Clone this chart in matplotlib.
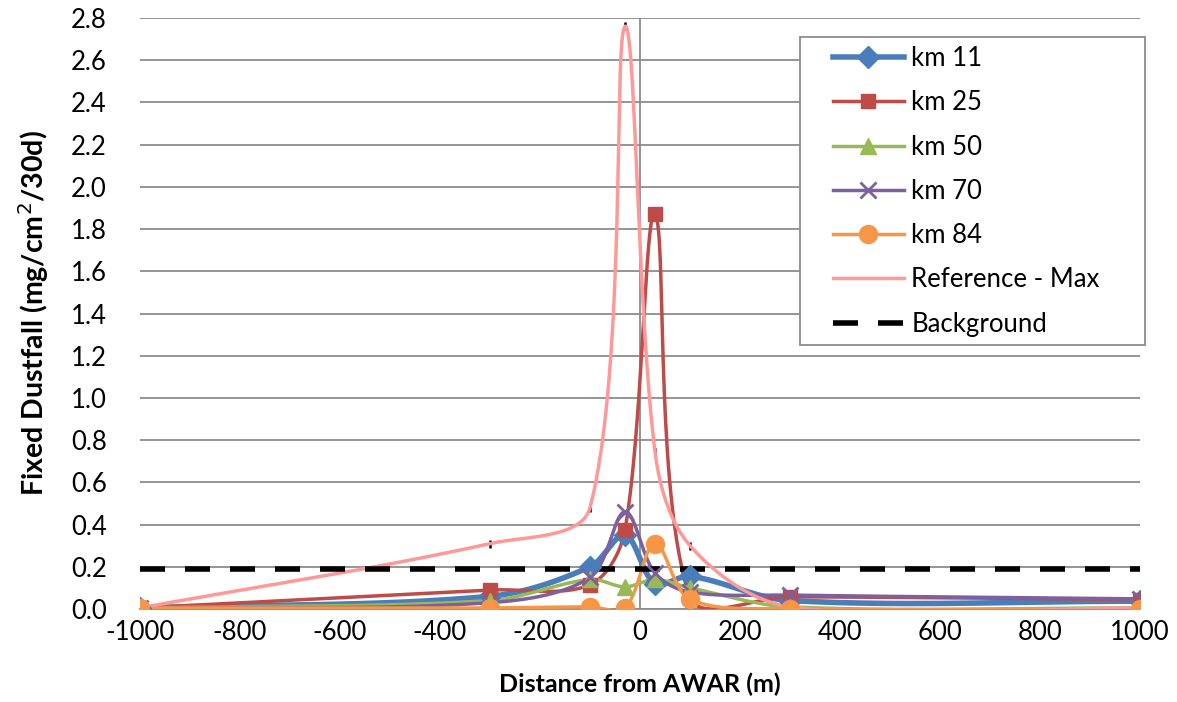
import matplotlib
matplotlib.use("Agg")
import matplotlib.pyplot as plt
from matplotlib.patches import Rectangle
import numpy as np

plt.rcParams['font.family'] = ['Lato', 'DejaVu Sans']
plt.rcParams['axes.unicode_minus'] = False

# distance from AWAR (m)
dist = [-1000, -300, -100, -30, 30, 100, 300, 1000]

km11 = [0.005, 0.06, 0.20, 0.35, 0.12, 0.155, 0.04, 0.037]
km25 = [0.005, 0.09, 0.115, 0.375, 1.87, 0.055, 0.058, 0.045]
km50 = [0.005, 0.04, 0.14, 0.105, 0.14, 0.10, 0.01, 0.005]
km70 = [0.005, 0.03, 0.15, 0.46, 0.17, 0.08, 0.066, 0.048]
km84 = [0.005, 0.005, 0.01, 0.005, 0.31, 0.047, 0.002, 0.002]
ref_max = [0.005, 0.31, 0.48, 2.76, 0.745, 0.30, 0.01, 0.005]
background = [0.19, 0.19]
bg_x = [-1000, 1000]

XMIN, XMAX, YMIN, YMAX = -1000, 1000, 0, 2.8
W_PX, H_PX = 1000, 591  # plot area size in pixels, used for smoothing


def smooth(x, y, n=60):
    # smoothed line like Excel: bezier segments in screen space,
    # tangents scaled by chord length so long neighbours do not overshoot
    px = (np.asarray(x, float) - XMIN) / (XMAX - XMIN) * W_PX
    py = (np.asarray(y, float) - YMIN) / (YMAX - YMIN) * H_PX
    P = np.column_stack([px, py])
    m = len(P)
    tang = np.zeros_like(P)
    for i in range(m):
        a = P[max(i - 1, 0)]
        b = P[min(i + 1, m - 1)]
        d = np.linalg.norm(P[i] - a) + np.linalg.norm(b - P[i])
        tang[i] = (b - a) / d if d > 0 else 0
    out = []
    t = np.linspace(0, 1, n)[:, None]
    for i in range(m - 1):
        p1, p2 = P[i], P[i + 1]
        L = np.linalg.norm(p2 - p1)
        c1 = p1 + tang[i] * L / 3
        c2 = p2 - tang[i + 1] * L / 3
        seg = ((1 - t) ** 3 * p1 + 3 * (1 - t) ** 2 * t * c1
               + 3 * (1 - t) * t ** 2 * c2 + t ** 3 * p2)
        out.append(seg)
    S = np.vstack(out)
    sx = S[:, 0] / W_PX * (XMAX - XMIN) + XMIN
    sy = S[:, 1] / H_PX * (YMAX - YMIN) + YMIN
    return sx, sy


fig = plt.figure(figsize=(11.77, 7.02), dpi=100)
ax = fig.add_axes([140 / 1177, 1 - 609 / 702, 1000 / 1177, 591 / 702])

series = [
    ("km 11", km11, "#4A7EBB", "D", 11, 4.0),
    ("km 25", km25, "#BE4B48", "s", 10, 2.5),
    ("km 50", km50, "#98B954", "^", 11, 2.5),
    ("km 70", km70, "#7D60A0", "x", 12, 2.5),
    ("km 84", km84, "#F79646", "o", 13, 2.5),
]

for name, vals, col, mk, ms, lw in series:
    sx, sy = smooth(dist, vals)
    ax.plot(sx, sy, color=col, lw=lw, zorder=3)
    ax.plot(dist, vals, ls="none", marker=mk, ms=ms, color=col,
            mec=col, mew=2 if mk == "x" else 1, zorder=4)
    ax.plot([], [], color=col, lw=lw, marker=mk, ms=ms, mew=2 if mk == "x" else 1,
            label=name)

sx, sy = smooth(dist, ref_max)
ax.plot(sx, sy, color="#FF9999", lw=2.5, zorder=3, label="Reference - Max")
ax.plot(dist[1:-1], ref_max[1:-1], ls="none", marker="|", ms=6, mew=1.8,
        color="black", zorder=2)

ax.plot(bg_x, background, color="black", lw=4, dashes=(4.5, 3.6),
        zorder=3, label="Background")

ax.set_xlim(XMIN, XMAX)
ax.set_ylim(YMIN, YMAX)
ax.set_xticks(np.arange(-1000, 1001, 200))
ax.set_yticks(np.arange(0, 2.81, 0.2))
ax.yaxis.set_major_formatter(matplotlib.ticker.FormatStrFormatter("%.1f"))
ax.tick_params(length=0, labelsize=18.5)
ax.tick_params(axis="x", pad=8)
ax.tick_params(axis="y", pad=24)

ax.grid(axis="y", color="#8C8C8C", lw=1.3)
ax.set_axisbelow(True)
for s in ["top", "right", "left"]:
    ax.spines[s].set_visible(False)
ax.spines["bottom"].set_color("#8C8C8C")
ax.spines["bottom"].set_linewidth(1.3)
ax.axvline(0, color="#8C8C8C", lw=1.3, zorder=1)

ax.set_xlabel("Distance from AWAR (m)", fontsize=18, fontweight="bold", labelpad=20)
ax.set_ylabel("Fixed Dustfall (mg/cm$^2$/30d)", fontsize=20.5, fontweight="bold",
              labelpad=14)

# legend without own frame, box drawn in figure pixels as in the reference
leg = ax.legend(loc="upper left", bbox_to_anchor=(833 / 1177, 1 - 46 / 702),
                bbox_transform=fig.transFigure, fontsize=18.5, frameon=False,
                borderpad=0, borderaxespad=0, labelspacing=0.75,
                handlelength=2.75, handletextpad=0.3)
leg.set_zorder(10)
box = Rectangle((800 / 1177, 1 - 345 / 702), 345 / 1177, 308 / 702,
                transform=fig.transFigure, facecolor="white",
                edgecolor="#8C8C8C", lw=1.3, zorder=6, clip_on=False)
ax.add_patch(box)

fig.savefig("out.png", dpi=100)
